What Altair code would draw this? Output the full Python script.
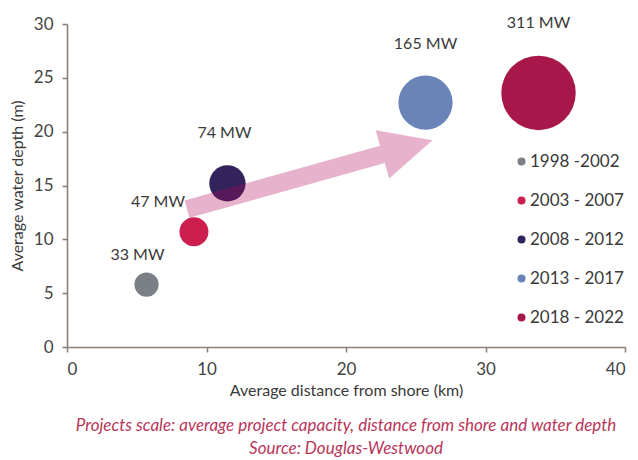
import math
import altair as alt
import pandas as pd

# Average offshore wind project by commissioning period
periods = ["1998 -2002", "2003 - 2007", "2008 - 2012", "2013 - 2017", "2018 - 2022"]
distance_km = [5.7, 9.1, 11.5, 25.7, 33.8]
depth_m = [5.8, 10.7, 15.2, 22.7, 23.6]
capacity_mw = [33, 47, 74, 165, 311]
period_colors = ["#7b8087", "#cc1f50", "#33235c", "#6a84b8", "#a8174a"]

# Trend arrow, from its tail to its tip, in data units (km, m)
arrow_tail = (8.6, 12.8)
arrow_tip = (26.2, 19.2)

FONT = "Lato"
W, H = 558, 323
X_MAX, Y_MAX = 40, 30
MAX_AREA = math.pi * 42 ** 2  # bubble area for the largest project

df = pd.DataFrame({
    "period": periods,
    "distance": distance_km,
    "depth": depth_m,
    "mw": capacity_mw,
})
df["label"] = df["mw"].astype(str) + " MW"

x_enc = alt.X(
    "distance:Q",
    scale=alt.Scale(domain=[0, X_MAX], nice=False),
    axis=alt.Axis(
        title="Average distance from shore (km)",
        values=[0, 10, 20, 30, 40],
        grid=False,
        tickSize=5,
        labelPadding=9,
        titlePadding=5,
    ),
)
y_enc = alt.Y(
    "depth:Q",
    scale=alt.Scale(domain=[0, Y_MAX], nice=False),
    axis=alt.Axis(
        title="Average water depth (m)",
        values=[0, 5, 10, 15, 20, 25, 30],
        grid=False,
        tickSize=5,
        labelPadding=9,
        titlePadding=8,
    ),
)

base = alt.Chart(df)

bubbles = base.mark_circle(opacity=1).encode(
    x=x_enc,
    y=y_enc,
    size=alt.Size(
        "mw:Q",
        scale=alt.Scale(domain=[0, max(capacity_mw)], range=[0, MAX_AREA], zero=True),
        legend=None,
    ),
    color=alt.Color(
        "period:N",
        scale=alt.Scale(domain=periods, range=period_colors),
        legend=alt.Legend(
            title=None,
            orient="none",
            legendX=446,
            legendY=129,
            symbolType="circle",
            symbolSize=64,
            symbolStrokeWidth=0,
            symbolOpacity=1,
            labelFont=FONT,
            labelFontSize=17,
            labelColor="#3a3a3a",
            labelOffset=0,
            rowPadding=21,
        ),
    ),
)

# Arrow drawn as one custom symbol, scaled and rotated to span tail -> tip
px_x = W / X_MAX
px_y = H / Y_MAX
dx_px = (arrow_tip[0] - arrow_tail[0]) * px_x
dy_px = (arrow_tip[1] - arrow_tail[1]) * px_y
length = math.hypot(dx_px, dy_px)
half = length / 2
angle = (-math.degrees(math.atan2(dy_px, dx_px))) % 360
shaft = 9 / half
head = 25 / half
base_x = 1 - 52 / half
arrow_path = (
    f"M -1 {-shaft:.4f} L {base_x:.4f} {-shaft:.4f} L {base_x:.4f} {-head:.4f} "
    f"L 1 0 L {base_x:.4f} {head:.4f} L {base_x:.4f} {shaft:.4f} L -1 {shaft:.4f} Z"
)
arrow_df = pd.DataFrame({
    "distance": [(arrow_tail[0] + arrow_tip[0]) / 2],
    "depth": [(arrow_tail[1] + arrow_tip[1]) / 2],
})
arrow = alt.Chart(arrow_df).mark_point(
    shape=arrow_path,
    filled=True,
    fill="#b00055",
    fillOpacity=0.3,
    strokeWidth=0,
    size=length ** 2,
    angle=angle,
).encode(x="distance:Q", y="depth:Q")

# Capacity labels above each bubble (pixel offsets from the bubble centre)
label_offsets = {
    "1998 -2002": (-9, -30),
    "2003 - 2007": (-36, -30),
    "2008 - 2012": (-3, -50),
    "2013 - 2017": (0, -59),
    "2018 - 2022": (0, -70),
}
labels = [
    base.transform_filter(alt.datum.period == p)
    .mark_text(font=FONT, fontSize=16, color="#3a3a3a", dx=ox, dy=oy, baseline="middle")
    .encode(x="distance:Q", y="depth:Q", text="label:N")
    for p, (ox, oy) in label_offsets.items()
]

chart = alt.layer(bubbles, arrow, *labels).properties(
    width=W,
    height=H,
    background="white",
    autosize=alt.AutoSizeParams(type="none"),
    padding={"left": 67, "top": 24, "right": 13, "bottom": 113},
    title=alt.TitleParams(
        text="Projects scale: average project capacity, distance from shore and water depth",
        subtitle="Source: Douglas-Westwood",
        orient="bottom",
        anchor="middle",
        font=FONT,
        fontSize=17,
        fontStyle="italic",
        fontWeight="normal",
        color="#b8365a",
        subtitleFont=FONT,
        subtitleFontSize=17,
        subtitleFontStyle="italic",
        subtitleColor="#b8365a",
        subtitlePadding=6,
        offset=20,
    ),
).configure_view(stroke=None).configure_axis(
    domainColor="#8c8079",
    domainWidth=1.6,
    tickColor="#8c8079",
    tickWidth=1.6,
    labelFont=FONT,
    labelFontSize=17,
    labelColor="#444444",
    titleFont=FONT,
    titleFontSize=16,
    titleFontWeight="normal",
    titleColor="#3a3a3a",
)

chart.save("out.html", embed_options={"renderer": "svg", "actions": False})
